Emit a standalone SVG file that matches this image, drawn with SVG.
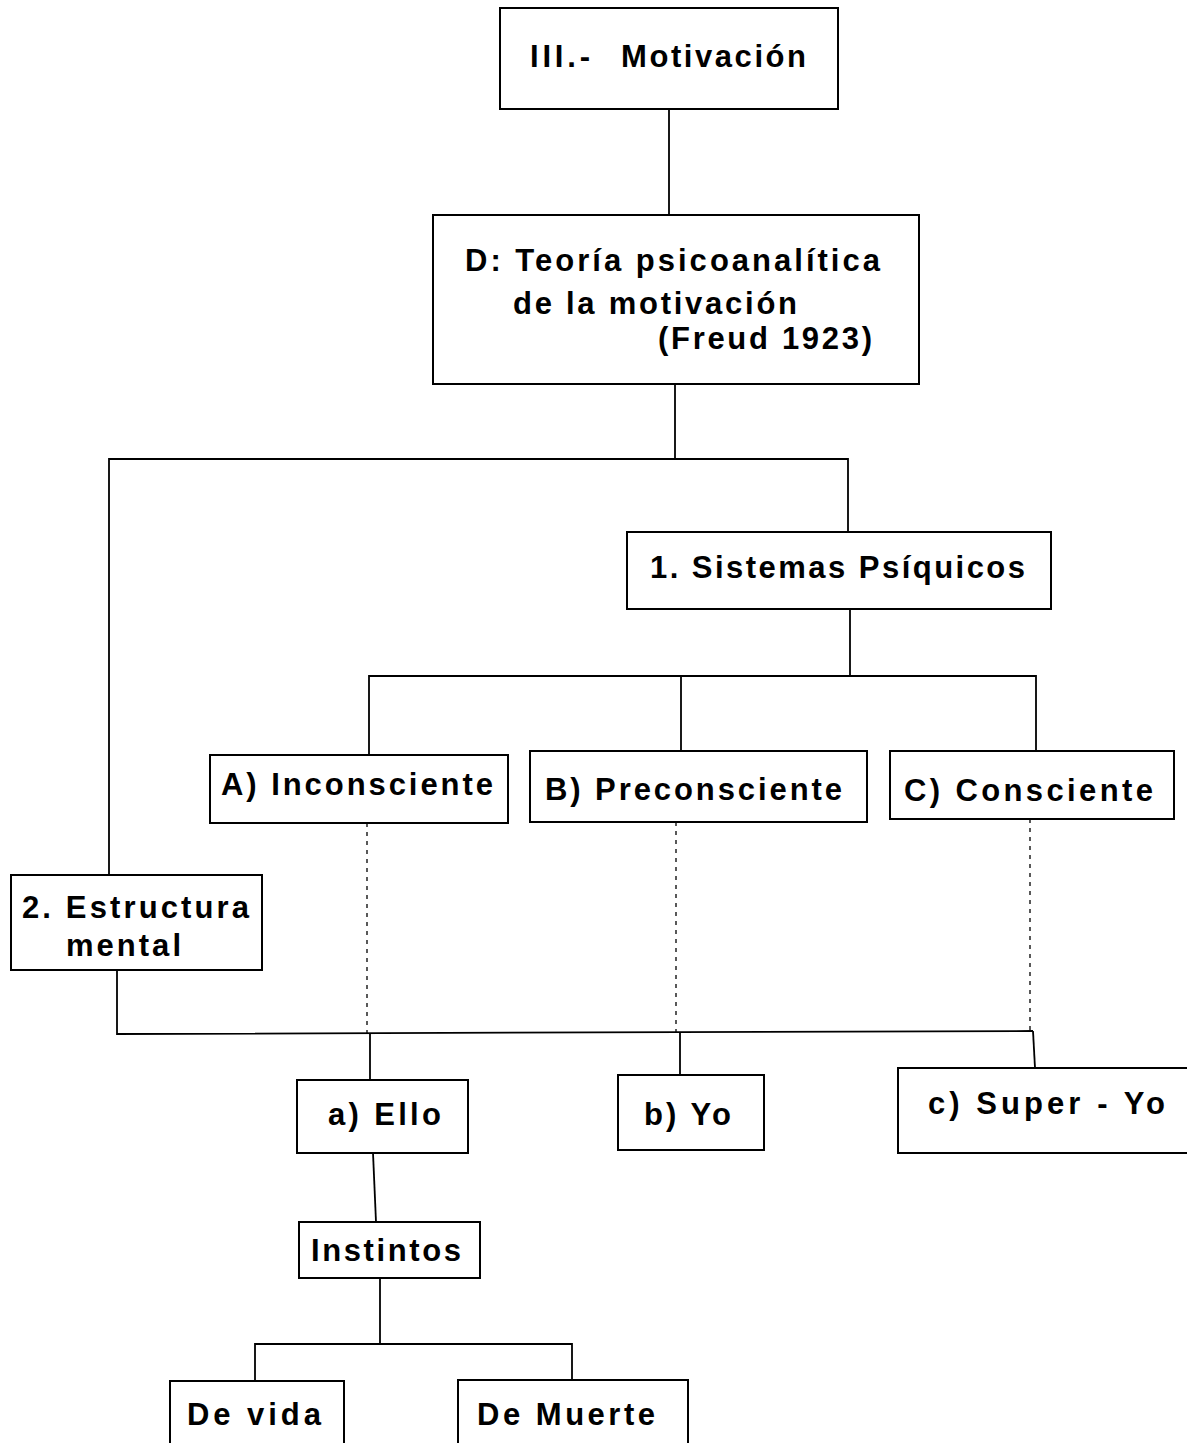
<svg xmlns="http://www.w3.org/2000/svg" width="1187" height="1443" viewBox="0 0 1187 1443">
  <style>
    .box { fill: #ffffff; stroke: #000000; stroke-width: 2; }
    .link { fill: none; stroke: #000000; stroke-width: 1.8; }
    .dot { fill: none; stroke: #000000; stroke-width: 1.3; stroke-dasharray: 4 5; }
    .lbl { font-family: "Liberation Sans", Arial, sans-serif; font-weight: bold; font-size: 31px; fill: #000000; }
  </style>

  <rect width="1187" height="1443" fill="#ffffff"/>

  <!-- connectors -->
  <g id="connectors">
    <line class="link" x1="669" y1="109" x2="669" y2="215"/>
    <line class="link" x1="675" y1="384" x2="675" y2="459"/>
    <polyline class="link" points="109,875 109,459 848,459 848,532"/>
    <line class="link" x1="850" y1="609" x2="850" y2="676"/>
    <polyline class="link" points="369,755 369,676 1036,676 1036,751"/>
    <line class="link" x1="681" y1="676" x2="681" y2="751"/>
    <line class="dot" x1="367" y1="823" x2="367" y2="1033"/>
    <line class="dot" x1="676" y1="822" x2="676" y2="1032"/>
    <line class="dot" x1="1030" y1="819" x2="1030" y2="1031"/>
    <polyline class="link" points="117,970 117,1034 1033,1031"/>
    <line class="link" x1="370" y1="1034" x2="370" y2="1080"/>
    <line class="link" x1="680" y1="1032" x2="680" y2="1075"/>
    <line class="link" x1="1033" y1="1031" x2="1035" y2="1068"/>
    <line class="link" x1="373" y1="1153" x2="376" y2="1222"/>
    <line class="link" x1="380" y1="1278" x2="380" y2="1344"/>
    <polyline class="link" points="255,1381 255,1344 572,1344 572,1380"/>
  </g>

  <!-- nodes -->
  <g id="motivacion">
    <rect class="box" x="500" y="8" width="338" height="101"/>
    <text class="lbl" x="530" y="67" textLength="60" lengthAdjust="spacing">III.-</text>
    <text class="lbl" x="621" y="67" textLength="185" lengthAdjust="spacing">Motivación</text>
  </g>

  <g id="teoria">
    <rect class="box" x="433" y="215" width="486" height="169"/>
    <text class="lbl" x="465" y="271" textLength="415" lengthAdjust="spacing">D: Teoría psicoanalítica</text>
    <text class="lbl" x="513" y="314" textLength="284" lengthAdjust="spacing">de la motivación</text>
    <text class="lbl" x="658" y="349" textLength="214" lengthAdjust="spacing">(Freud 1923)</text>
  </g>

  <g id="sistemas">
    <rect class="box" x="627" y="532" width="424" height="77"/>
    <text class="lbl" x="650" y="578" textLength="375" lengthAdjust="spacing">1. Sistemas Psíquicos</text>
  </g>

  <g id="inconsciente">
    <rect class="box" x="210" y="755" width="298" height="68"/>
    <text class="lbl" x="221" y="795" textLength="272" lengthAdjust="spacing">A) Inconsciente</text>
  </g>

  <g id="preconsciente">
    <rect class="box" x="530" y="751" width="337" height="71"/>
    <text class="lbl" x="545" y="800" textLength="297" lengthAdjust="spacing">B) Preconsciente</text>
  </g>

  <g id="consciente">
    <rect class="box" x="890" y="751" width="284" height="68"/>
    <text class="lbl" x="904" y="801" textLength="249" lengthAdjust="spacing">C) Consciente</text>
  </g>

  <g id="estructura">
    <rect class="box" x="11" y="875" width="251" height="95"/>
    <text class="lbl" x="22" y="918" textLength="227" lengthAdjust="spacing">2. Estructura</text>
    <text class="lbl" x="66" y="956" textLength="115" lengthAdjust="spacing">mental</text>
  </g>

  <g id="ello">
    <rect class="box" x="297" y="1080" width="171" height="73"/>
    <text class="lbl" x="328" y="1125" textLength="113" lengthAdjust="spacing">a) Ello</text>
  </g>

  <g id="yo">
    <rect class="box" x="618" y="1075" width="146" height="75"/>
    <text class="lbl" x="644" y="1125" textLength="87" lengthAdjust="spacing">b) Yo</text>
  </g>

  <g id="super-yo">
    <rect class="box" x="898" y="1068" width="310" height="85"/>
    <text class="lbl" x="928" y="1114" textLength="237" lengthAdjust="spacing">c) Super - Yo</text>
  </g>

  <g id="instintos">
    <rect class="box" x="299" y="1222" width="181" height="56"/>
    <text class="lbl" x="311" y="1261" textLength="150" lengthAdjust="spacing">Instintos</text>
  </g>

  <g id="de-vida">
    <rect class="box" x="170" y="1381" width="174" height="80"/>
    <text class="lbl" x="187" y="1425" textLength="134" lengthAdjust="spacing">De vida</text>
  </g>

  <g id="de-muerte">
    <rect class="box" x="458" y="1380" width="230" height="80"/>
    <text class="lbl" x="477" y="1425" textLength="178" lengthAdjust="spacing">De Muerte</text>
  </g>
</svg>
